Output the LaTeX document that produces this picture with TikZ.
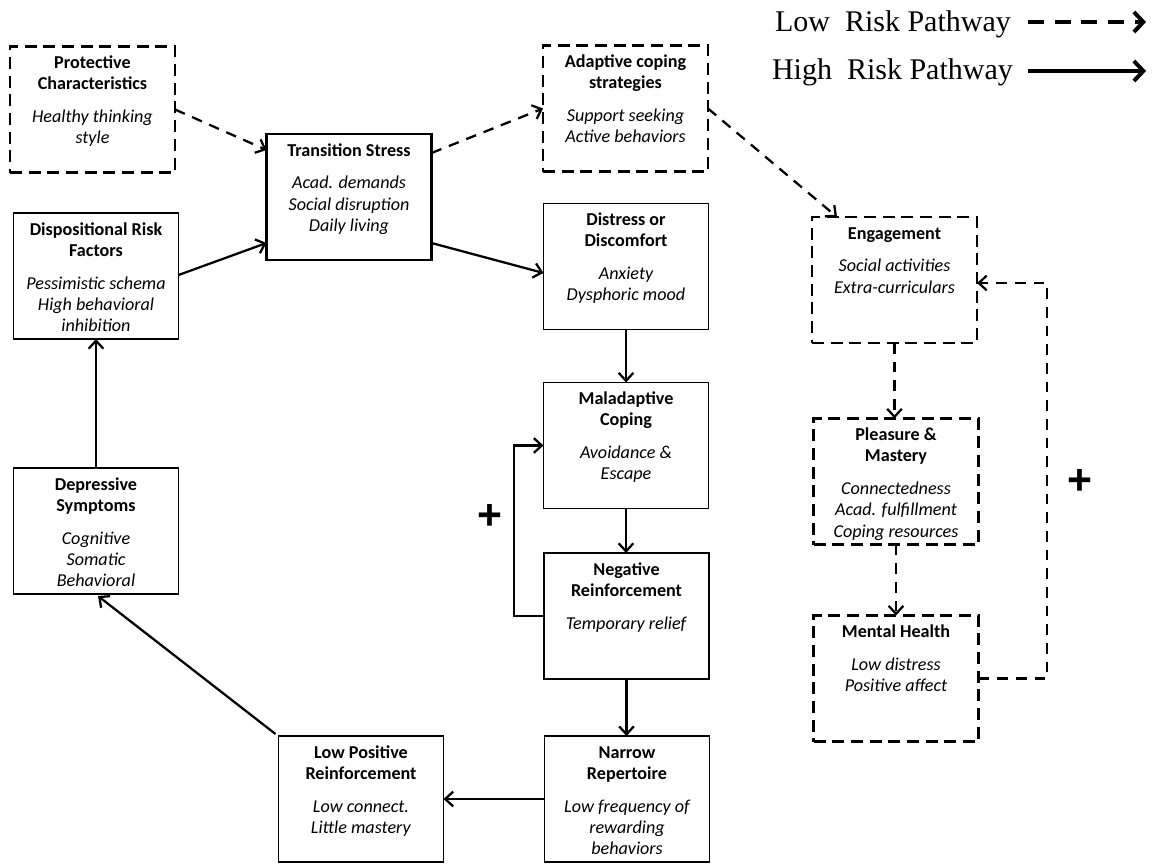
\documentclass[tikz,border=0pt]{standalone}
\usepackage{fontspec}
\setmainfont{Carlito}
\newfontfamily\legendfont{Liberation Serif}
\newfontfamily\plusfont{Liberation Sans}
\usetikzlibrary{arrows.meta,calc}

% box contents: bold heading, then italic items, set from the top of the box
\newcommand\boxtext[2]{%
  \parbox[c][94.5pt][t]{123.75pt}{\centering\fontsize{13.6}{16.1}\selectfont
    \rule{0pt}{16.5pt}\textbf{#1}\par\vspace{8.3pt}\textit{#2}\par}}

\tikzset{
  every node/.style={inner sep=0pt, outer sep=0pt},
  solidbox/.style={draw, line width=1.2pt},
  stressbox/.style={draw, line width=2pt},
  dashbox/.style={draw, line width=2pt, dash pattern=on 9pt off 5pt},
  hiarrow/.style={line width=1.7pt, -{Straight Barb[length=6pt,width=11pt]}},
  loarrow/.style={hiarrow, dash pattern=on 8pt off 6pt},
  legendtext/.style={anchor=base west, font=\legendfont\fontsize{22.5}{22.5}\selectfont},
  legendarrow/.style={line width=3pt, -{Straight Barb[length=7pt,width=15pt]}},
  plussign/.style={font=\plusfont\bfseries\fontsize{32}{32}\selectfont},
}

\begin{document}
\begin{tikzpicture}[x=0.75pt, y=-0.75pt]
\useasboundingbox (0,0) rectangle (1155,863);

% ---- boxes ----
\node[dashbox]   (pc) at (92.5,109.5) {\boxtext{Protective\\Characteristics}{Healthy thinking\\style}};
\node[solidbox]  (dr) at (96,276)     {\boxtext{Dispositional Risk\\Factors}{Pessimistic schema\\High behavioral\\inhibition}};
\node[stressbox] (ts) at (349,197)    {\boxtext{Transition Stress}{Acad. demands\\Social disruption\\Daily living}};
\node[dashbox]   (ac) at (625.5,108.5){\boxtext{Adaptive coping\\strategies}{Support seeking\\Active behaviors}};
\node[solidbox]  (dd) at (626,266.5)  {\boxtext{Distress or\\Discomfort}{Anxiety\\Dysphoric mood}};
\node[solidbox]  (mc) at (626,445.5)  {\boxtext{Maladaptive\\Coping}{Avoidance \&\\Escape}};
\node[solidbox]  (nr) at (626.5,616)  {\boxtext{Negative\\Reinforcement}{Temporary relief}};
\node[solidbox]  (na) at (627,799)    {\boxtext{Narrow\\Repertoire}{Low frequency of\\rewarding\\behaviors}};
\node[solidbox]  (lp) at (361,799)    {\boxtext{Low Positive\\Reinforcement}{Low connect.\\Little mastery}};
\node[solidbox]  (ds) at (96,531)     {\boxtext{Depressive\\Symptoms}{Cognitive\\Somatic\\Behavioral}};
\node[dashbox]   (en) at (894.5,280)  {\boxtext{Engagement}{Social activities\\Extra-curriculars}};
\node[dashbox]   (pm) at (896,481.5)  {\boxtext{Pleasure \&\\Mastery}{Connectedness\\Acad. fulfillment\\Coping resources}};
\node[dashbox]   (mh) at (896,678.5)  {\boxtext{Mental Health}{Low distress\\Positive affect}};

% ---- low risk (dashed) pathway ----
\draw[loarrow] (pc.east) -- ($(ts.west)+(0,-47)$);
\draw[loarrow] ($(ts.east)+(0,-44)$) -- (ac.west);
\draw[loarrow] (ac.east) -- ($(en.north)+(-57.5,0)$);
\draw[loarrow] (en.south) -- (en.south |- pm.north);
\draw[loarrow] (pm.south) -- (mh.north);
\coordinate (rloop) at (1047,283);
\draw[loarrow] (mh.east) -| (rloop) -- ($(en.east)+(0,3)$);

% ---- high risk (solid) pathway ----
\draw[hiarrow] ($(dr.east)+(0,-1)$) -- ($(ts.west)+(0,46)$);
\draw[hiarrow] ($(ts.east)+(0,46)$) -- ($(dd.west)+(0,6.5)$);
\draw[hiarrow] (dd.south) -- (mc.north);
\draw[hiarrow] (mc.south) -- (mc.south |- nr.north);
\draw[hiarrow] (nr.south) -- (nr.south |- na.north);
\draw[hiarrow] (na.west) -- (na.west -| lp.east);
\draw[hiarrow] ($(lp.north west)+(-3,-2)$) -- ($(ds.south)+(2,2)$);
\draw[hiarrow] (ds.north) -- (dr.south);
\coordinate (lloop) at (514,445.5);
\draw[hiarrow] (nr.west) -| (lloop) -- (mc.west);

% ---- feedback signs ----
\node[plussign] (plusL) at (490,517) {+};
\node[plussign] (plusR) at (1080,482) {+};

% ---- legend ----
\node[legendtext] (lowlbl) at (775,32) {Low\ \ Risk Pathway};
\node[legendtext] (highlbl) at (772,80) {High\ \ Risk Pathway};
\coordinate (lowA) at (1028,22);
\coordinate (lowB) at (1146,22);
\coordinate (highA) at (1028,71);
\coordinate (highB) at (1146,71);
\draw[legendarrow, dash pattern=on 12pt off 8pt] (lowA) -- (lowB);
\draw[legendarrow] (highA) -- (highB);
\end{tikzpicture}
\end{document}
